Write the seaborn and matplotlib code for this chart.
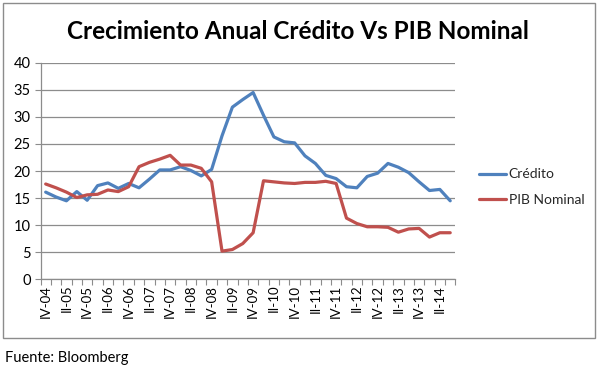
import matplotlib
matplotlib.use("Agg")
import matplotlib.pyplot as plt
import seaborn as sns
import pandas as pd
from matplotlib.patches import Rectangle

quarters = ["IV-04",
            "I-05", "II-05", "III-05", "IV-05",
            "I-06", "II-06", "III-06", "IV-06",
            "I-07", "II-07", "III-07", "IV-07",
            "I-08", "II-08", "III-08", "IV-08",
            "I-09", "II-09", "III-09", "IV-09",
            "I-10", "II-10", "III-10", "IV-10",
            "I-11", "II-11", "III-11", "IV-11",
            "I-12", "II-12", "III-12", "IV-12",
            "I-13", "II-13", "III-13", "IV-13",
            "I-14", "II-14", "III-14"]

credito = [16.1, 15.2, 14.5, 16.2, 14.6, 17.3, 17.8, 16.8, 17.7, 16.9,
           18.5, 20.2, 20.2, 20.8, 20.1, 19.1, 20.3, 26.5, 31.8, 33.2,
           34.5, 30.3, 26.3, 25.4, 25.2, 22.8, 21.4, 19.2, 18.6, 17.1,
           16.9, 19.0, 19.6, 21.4, 20.7, 19.7, 18.0, 16.4, 16.6, 14.5]

pib_nominal = [17.6, 16.9, 16.1, 15.1, 15.6, 15.7, 16.5, 16.2, 17.1, 20.8,
               21.6, 22.2, 22.9, 21.1, 21.1, 20.5, 18.0, 5.2, 5.5, 6.6,
               8.6, 18.2, 18.0, 17.8, 17.7, 17.9, 17.9, 18.1, 17.7, 11.3,
               10.3, 9.7, 9.7, 9.6, 8.7, 9.3, 9.4, 7.8, 8.6, 8.6]

series_names = ["Crédito", "PIB Nominal"]
colors = ["#4F81BD", "#C0504D"]

df = pd.DataFrame({
    "Trimestre": quarters * 2,
    "Valor": credito + pib_nominal,
    "Serie": [series_names[0]] * len(quarters) + [series_names[1]] * len(quarters),
})

sns.set_theme(style="white")
plt.rcParams["font.family"] = ["Lato", "DejaVu Sans"]

fig = plt.figure(figsize=(6.0, 3.67), dpi=100)
ax = fig.add_axes([0.0675, 0.239, 0.759 - 0.0675, 0.829 - 0.239])

sns.lineplot(data=df, x="Trimestre", y="Valor", hue="Serie", palette=colors,
             linewidth=2.3, ax=ax, sort=False)

n = len(quarters)
ax.set_xlim(-0.5, n - 0.5)
ax.set_ylim(0, 40)
ax.set_yticks(range(0, 41, 5))
ax.yaxis.grid(True, color="#8c8c8c", linewidth=0.9)
ax.xaxis.grid(False)

ax.set_xticks(range(0, n, 2))
ax.set_xticklabels(quarters[0::2], rotation=90)
ax.set_xticks([i - 0.5 for i in range(n + 1)], minor=True)
ax.tick_params(axis="x", which="major", length=0, labelsize=9.5, pad=4, colors="black")
ax.tick_params(axis="x", which="minor", length=4, width=0.8, color="#8c8c8c", direction="out", bottom=True)
ax.tick_params(axis="y", which="major", length=4, width=0.8, color="#8c8c8c", direction="out", left=True,
               labelsize=10.5, pad=3)
for lab in ax.get_yticklabels():
    lab.set_color("black")

for side in ["top", "right"]:
    ax.spines[side].set_visible(False)
for side in ["left", "bottom"]:
    ax.spines[side].set_color("#8c8c8c")
    ax.spines[side].set_linewidth(0.9)

ax.set_xlabel("")
ax.set_ylabel("")

leg = ax.legend(loc="center left", bbox_to_anchor=(1.026, 0.426), frameon=False,
                fontsize=10, handlelength=2.0, handletextpad=0.15, labelspacing=0.95)

fig.text(0.497, 0.913, "Crecimiento Anual Crédito Vs PIB Nominal", ha="center", va="center",
         fontsize=17.5, fontweight="bold", color="black")
fig.text(0.008, 0.025, "Fuente: Bloomberg", ha="left", va="center", fontsize=10.5, color="black")

fig.patches.append(Rectangle((3 / 600, 1 - 338 / 367), 592 / 600, 335 / 367,
                             transform=fig.transFigure, fill=False, edgecolor="#8c8c8c",
                             linewidth=1.0))

fig.savefig("out.png", dpi=100)
